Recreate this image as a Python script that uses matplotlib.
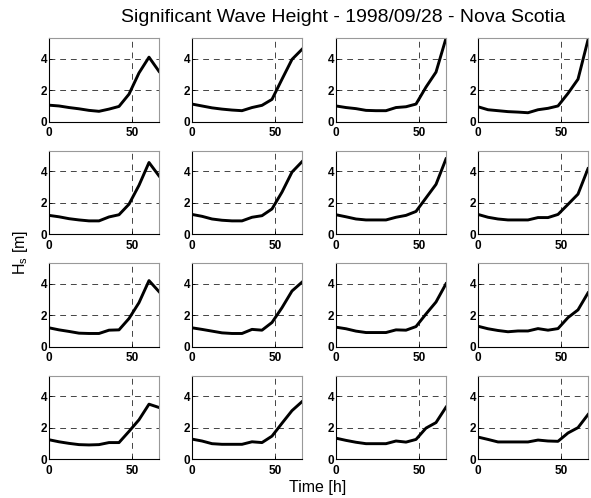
import numpy as np
import matplotlib
matplotlib.use('Agg')
import matplotlib.pyplot as plt

plt.rcParams['font.family'] = ['Liberation Sans', 'DejaVu Sans']

# === Donnees : hauteur significative (m), toutes les 6 h ===
hours = [0, 6, 12, 18, 24, 30, 36, 42, 48, 54, 60, 66]

hs_r1c1 = [1.05, 1.0, 0.9, 0.82, 0.72, 0.66, 0.8, 0.97, 1.75, 3.1, 4.1, 3.2]
hs_r1c2 = [1.12, 1.0, 0.88, 0.8, 0.74, 0.7, 0.9, 1.04, 1.42, 2.7, 3.96, 4.6]
hs_r1c3 = [1.0, 0.9, 0.83, 0.72, 0.7, 0.7, 0.9, 0.95, 1.12, 2.2, 3.15, 5.3]
hs_r1c4 = [0.95, 0.76, 0.7, 0.64, 0.61, 0.57, 0.76, 0.85, 1.0, 1.8, 2.7, 5.2]

hs_r2c1 = [1.19, 1.1, 0.98, 0.9, 0.84, 0.84, 1.09, 1.23, 1.9, 3.1, 4.55, 3.7]
hs_r2c2 = [1.25, 1.13, 0.96, 0.88, 0.84, 0.84, 1.07, 1.17, 1.6, 2.67, 3.94, 4.6]
hs_r2c3 = [1.23, 1.1, 0.96, 0.9, 0.9, 0.9, 1.07, 1.19, 1.44, 2.3, 3.16, 4.78]
hs_r2c4 = [1.25, 1.07, 0.96, 0.9, 0.9, 0.9, 1.05, 1.05, 1.25, 1.89, 2.54, 4.16]

hs_r3c1 = [1.2, 1.07, 0.97, 0.86, 0.84, 0.84, 1.05, 1.07, 1.79, 2.8, 4.2, 3.5]
hs_r3c2 = [1.2, 1.1, 0.99, 0.88, 0.84, 0.84, 1.1, 1.05, 1.54, 2.48, 3.54, 4.1]
hs_r3c3 = [1.24, 1.14, 0.99, 0.9, 0.9, 0.9, 1.07, 1.05, 1.28, 2.08, 2.84, 4.0]
hs_r3c4 = [1.3, 1.14, 1.03, 0.95, 1.0, 1.0, 1.15, 1.05, 1.15, 1.85, 2.34, 3.42]

hs_r4c1 = [1.23, 1.1, 1.0, 0.92, 0.9, 0.92, 1.05, 1.05, 1.76, 2.5, 3.49, 3.28]
hs_r4c2 = [1.27, 1.15, 0.98, 0.94, 0.94, 0.94, 1.1, 1.05, 1.46, 2.28, 3.08, 3.65]
hs_r4c3 = [1.33, 1.19, 1.07, 0.98, 0.98, 0.98, 1.15, 1.08, 1.25, 1.97, 2.32, 3.3]
hs_r4c4 = [1.4, 1.25, 1.09, 1.09, 1.09, 1.09, 1.21, 1.15, 1.13, 1.66, 2.0, 2.83]

series = [
    [hs_r1c1, hs_r1c2, hs_r1c3, hs_r1c4],
    [hs_r2c1, hs_r2c2, hs_r2c3, hs_r2c4],
    [hs_r3c1, hs_r3c2, hs_r3c3, hs_r3c4],
    [hs_r4c1, hs_r4c2, hs_r4c3, hs_r4c4],
]

W, H = 591, 498
fig = plt.figure(figsize=(W / 100, H / 100), dpi=100)

col_left = [49, 192, 336, 478]
row_top = [38.3, 150.7, 263.3, 375.7]
ax_w, ax_h = 110, 83.4

for i in range(4):
    for j in range(4):
        ax = fig.add_axes([col_left[j] / W, 1 - (row_top[i] + ax_h) / H,
                           ax_w / W, ax_h / H])
        ax.plot(hours, series[i][j], color='black', lw=2.1)
        ax.set_xlim(0, 66)
        ax.set_ylim(0, 5.3)
        ax.set_xticks([0, 50])
        ax.set_yticks([0, 2, 4])
        ax.grid(True, color='#444444', ls=(0, (6, 5)), lw=0.7)
        ax.tick_params(direction='in', length=2, width=0.6, labelsize=8.5)
        ax.tick_params(axis='x', pad=4)
        ax.tick_params(axis='y', pad=1.5)
        for lab in ax.get_xticklabels() + ax.get_yticklabels():
            lab.set_fontweight('bold')
        ax.spines['left'].set_color('black')
        ax.spines['bottom'].set_color('black')
        ax.spines['top'].set_color('#999999')
        ax.spines['right'].set_color('#999999')
        for s in ax.spines.values():
            s.set_linewidth(0.8)

fig.text(343 / W, 1 - 18 / H, 'Significant Wave Height - 1998/09/28 - Nova Scotia',
         ha='center', va='center', fontsize=14)
fig.text(318 / W, 1 - 487 / H, 'Time [h]', ha='center', va='center',
         fontsize=11.5)
fig.text(20 / W, 1 - 252 / H, r'H$_\mathregular{s}$ [m]', ha='center',
         va='center', rotation=90, fontsize=11.5)

fig.savefig('out.png', dpi=100)
